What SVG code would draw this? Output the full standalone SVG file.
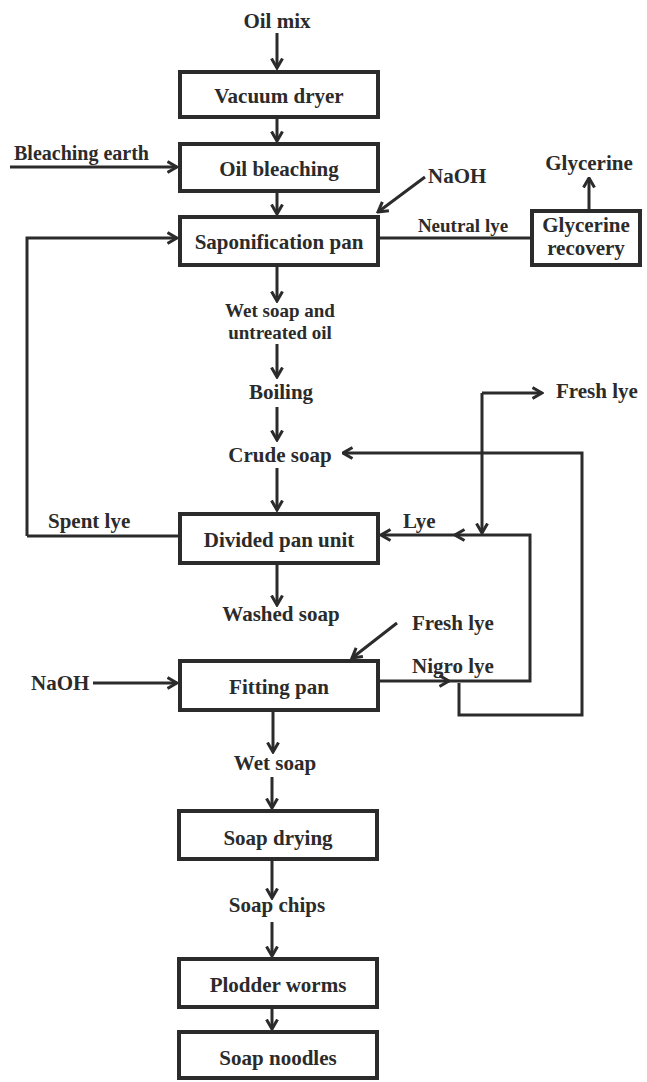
<svg xmlns="http://www.w3.org/2000/svg" width="647" height="1082" viewBox="0 0 647 1082">
<style>
text{font-family:"Liberation Serif","Times New Roman",serif;font-weight:bold;font-size:21px;fill:#2b2b2b}
.m{text-anchor:middle}
.s{font-size:19px}
.t{font-size:20px}
.box{fill:#fff;stroke:#2b2b2b;stroke-width:4}
.ln{fill:none;stroke:#2b2b2b;stroke-width:3}
.ar{marker-end:url(#ah)}
</style>
<defs>
<marker id="ah" viewBox="0 0 12 14" refX="10.5" refY="7" markerWidth="12" markerHeight="14" markerUnits="userSpaceOnUse" orient="auto">
<path d="M1,1.5 L10.5,7 L1,12.5" fill="none" stroke="#2b2b2b" stroke-width="3"/>
</marker>
</defs>
<rect width="647" height="1082" fill="#fff"/>
<g id="connectors">
<path class="ln ar" d="M277,33 V68"/>
<path class="ln ar" d="M277,119 V141"/>
<path class="ln ar" d="M277,193 V214"/>
<path class="ln ar" d="M10,167 H177"/>
<path class="ln ar" d="M425,177 L378,212"/>
<path class="ln ar" d="M27,536 V238 H177"/>
<path class="ln" d="M178,536 H27"/>
<path class="ln" d="M380,238 H530"/>
<path class="ln ar" d="M589,209 V178"/>
<path class="ln ar" d="M277,267 V301"/>
<path class="ln ar" d="M277,344 V377"/>
<path class="ln ar" d="M277,407 V440"/>
<path class="ln ar" d="M277,468 V510"/>
<path class="ln ar" d="M482,393 H542"/>
<path class="ln ar" d="M482,393 V533"/>
<path class="ln ar" d="M459,683 V715 H582 V453 H343"/>
<path class="ln ar" d="M380,681 H449"/>
<path class="ln ar" d="M449,681 H530 V535 H455"/>
<path class="ln ar" d="M455,535 H381"/>
<path class="ln ar" d="M277,565 V605"/>
<path class="ln ar" d="M397,623 L352,658"/>
<path class="ln ar" d="M93,683 H177"/>
<path class="ln ar" d="M273,712 V752"/>
<path class="ln ar" d="M272,777 V808"/>
<path class="ln ar" d="M272,861 V898"/>
<path class="ln ar" d="M272,922 V956"/>
<path class="ln ar" d="M272,1009 V1029"/>
</g>
<g id="labels">
<text class="m" x="277" y="28">Oil mix</text>
<text x="14" y="160" class="t">Bleaching earth</text>
<text x="428" y="183">NaOH</text>
<text class="m s" x="463" y="232">Neutral lye</text>
<text class="m" x="589" y="170">Glycerine</text>
<text class="m s" x="280" y="317">Wet soap and</text>
<text class="m s" x="280" y="339">untreated oil</text>
<text class="m" x="281" y="399">Boiling</text>
<text class="m" x="280" y="462">Crude soap</text>
<text x="556" y="398">Fresh lye</text>
<text x="48" y="528">Spent lye</text>
<text x="403" y="528">Lye</text>
<text class="m" x="281" y="621">Washed soap</text>
<text x="412" y="630">Fresh lye</text>
<text x="412" y="673">Nigro lye</text>
<text x="31" y="690">NaOH</text>
<text class="m" x="275" y="770">Wet soap</text>
<text class="m" x="277" y="912">Soap chips</text>
</g>
<g id="vacuum-dryer"><rect class="box" x="180" y="72" width="198" height="45"/><text class="m" x="279" y="103">Vacuum dryer</text></g>
<g id="oil-bleaching"><rect class="box" x="180" y="144" width="198" height="47"/><text class="m" x="279" y="176">Oil bleaching</text></g>
<g id="saponification-pan"><rect class="box" x="180" y="217" width="198" height="48"/><text class="m" x="279" y="249">Saponification pan</text></g>
<g id="glycerine-recovery"><rect class="box" x="532" y="211" width="108" height="54"/><text class="m" x="586" y="232">Glycerine</text><text class="m" x="586" y="255">recovery</text></g>
<g id="divided-pan-unit"><rect class="box" x="180" y="514" width="198" height="49"/><text class="m" x="279" y="547">Divided pan unit</text></g>
<g id="fitting-pan"><rect class="box" x="180" y="661" width="198" height="49"/><text class="m" x="279" y="694">Fitting pan</text></g>
<g id="soap-drying"><rect class="box" x="179" y="811" width="198" height="48"/><text class="m" x="278" y="845">Soap drying</text></g>
<g id="plodder-worms"><rect class="box" x="179" y="959" width="198" height="48"/><text class="m" x="278" y="992">Plodder worms</text></g>
<g id="soap-noodles"><rect class="box" x="179" y="1032" width="198" height="46"/><text class="m" x="278" y="1065">Soap noodles</text></g>
</svg>
